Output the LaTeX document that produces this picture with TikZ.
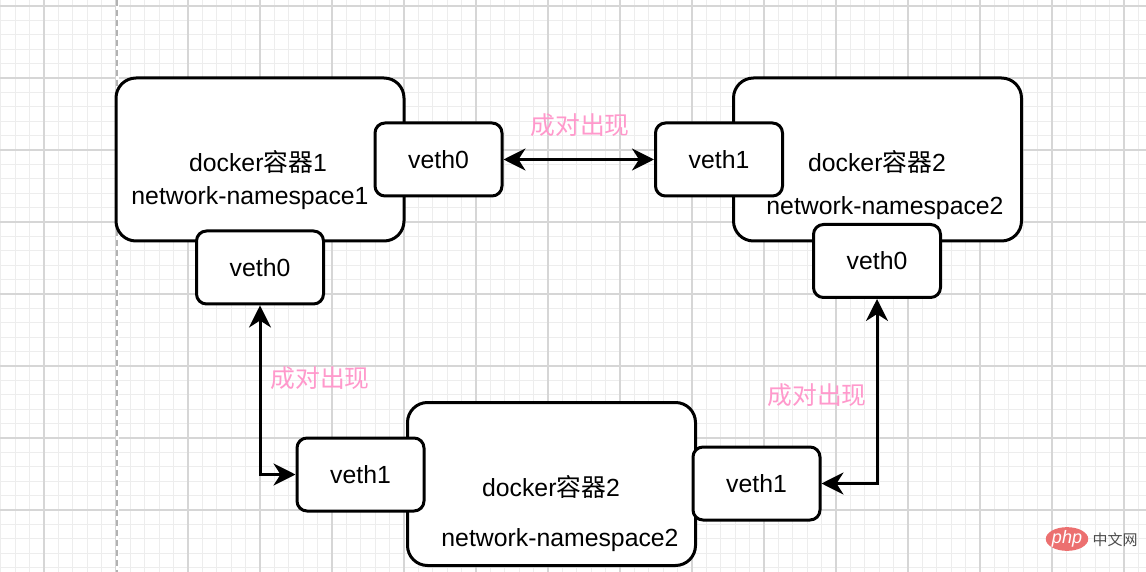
\documentclass[tikz,border=0pt]{standalone}
\usepackage{fontspec}
\setmainfont{Liberation Sans}
\newfontfamily\cjk{Noto Sans CJK SC}
\usetikzlibrary{arrows.meta,shapes.geometric}
\definecolor{pinklbl}{RGB}{255,153,204}
\definecolor{gridminor}{RGB}{237,237,237}
\definecolor{gridmajor}{RGB}{214,214,214}
\definecolor{phpred}{RGB}{236,112,112}
\begin{document}
\begin{tikzpicture}[x=0.5pt,y=-0.5pt,
  >={Stealth[length=11pt,width=11pt,inset=3.5pt]},
  bigbox/.style={draw,line width=1.5pt,rounded corners=10pt,fill=white,minimum width=144pt,minimum height=81.5pt,inner sep=0pt},
  port/.style={draw,line width=1.5pt,rounded corners=5pt,fill=white,minimum width=63.5pt,minimum height=36.5pt,inner sep=0pt,font=\fontsize{12.4}{15}\selectfont},
  lbl/.style={font=\fontsize{12.4}{15}\selectfont, inner sep=0pt},
  pair/.style={font=\fontsize{12.4}{15}\selectfont\cjk, text=pinklbl, inner sep=0pt},
  link/.style={line width=1.5pt,<->}
]
\useasboundingbox (0,0) rectangle (1146,572);
\fill[white] (0,0) rectangle (1146,572);
% grid
\foreach \i in {0,...,79} {\draw[gridminor, line width=0.5pt] ({0.8+14.4*\i},0) -- ({0.8+14.4*\i},572);}
\foreach \i in {0,...,39} {\draw[gridminor, line width=0.5pt] (0,{6+14.4*\i}) -- (1146,{6+14.4*\i});}
\foreach \i in {0,...,15} {\draw[gridmajor, line width=0.6pt] ({44+72*\i},0) -- ({44+72*\i},572);}
\foreach \i in {0,...,7} {\draw[gridmajor, line width=0.6pt] (0,{6+72*\i}) -- (1146,{6+72*\i});}
\fill[white] (115.5,0) rectangle (118.5,572);
\draw[black!30, dashed, dash pattern=on 3pt off 2pt, line width=0.6pt] (117,0) -- (117,572);

% containers
\node[bigbox] (c1) at (260,159.5) {};
\node[bigbox] (c2) at (877.5,159.5) {};
\node[bigbox] (c3) at (551.5,484) {};

% container texts
\node[lbl] (t1a) at (258,162) {docker{\cjk 容器}1};
\node[lbl] (t1b) at (250,198) {network-namespace1};
\node[lbl] (t2a) at (877,162) {docker{\cjk 容器}2};
\node[lbl] (t2b) at (885,208) {network-namespace2};
\node[lbl] (t3a) at (551,487) {docker{\cjk 容器}2};
\node[lbl] (t3b) at (560,540) {network-namespace2};

% ports
\node[port] (p1r) at (438.5,159.5) {veth0};
\node[port] (p1b) at (260,267.5) {veth0};
\node[port] (p2l) at (719,159.5) {veth1};
\node[port] (p2b) at (877,261) {veth0};
\node[port] (p3l) at (360.5,474.5) {veth1};
\node[port] (p3r) at (756.5,483.5) {veth1};

% links
\draw[link] (p1r.east) -- (p2l.west);
\draw[link] (p1b.south) |- (p3l.west);
\draw[link] (p2b.south) |- (p3r.east);

% labels
\node[pair] (l1) at (580,125) {成对出现};
\node[pair] (l2) at (320,378) {成对出现};
\node[pair] (l3) at (817,395) {成对出现};

% watermark
\node[ellipse, fill=phpred, minimum width=21pt, minimum height=10pt, inner sep=0pt, text=white, font=\itshape\fontsize{9}{9}\selectfont] (php) at (1067,539) {php};
\node[text=black!70, inner sep=0pt, font=\cjk\fontsize{7.5}{8}\selectfont] (cnw) at (1115,540) {中文网};
\end{tikzpicture}
\end{document}
